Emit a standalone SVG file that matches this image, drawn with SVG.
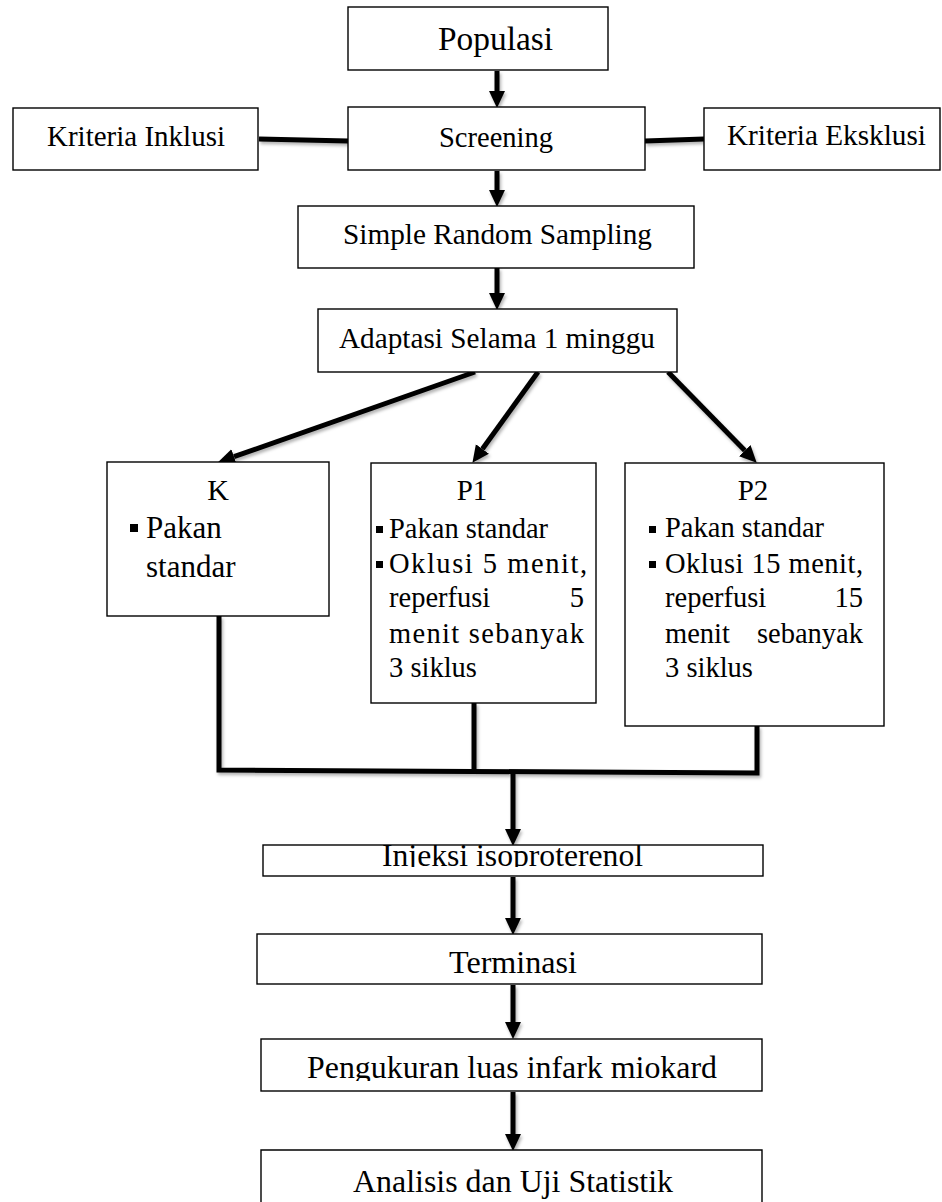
<svg xmlns="http://www.w3.org/2000/svg" width="942" height="1202" viewBox="0 0 942 1202">
<style>
.box{fill:#fff;stroke:#000;stroke-width:1.4}
.t{font-family:"Liberation Serif","Times New Roman",serif;fill:#000}
.c{stroke:#000;stroke-width:5;fill:none}
.b{fill:#000}
</style>
<defs>
<marker id="ah" markerUnits="userSpaceOnUse" markerWidth="17" markerHeight="17" refX="0" refY="8" orient="auto" viewBox="0 0 17 16">
<path d="M0,0 L17,8 L0,16 z" fill="#000"/>
</marker>
<filter id="sh" x="-20%" y="-20%" width="140%" height="140%">
<feDropShadow dx="1.5" dy="2.5" stdDeviation="1.8" flood-color="#000" flood-opacity="0.3"/>
</filter>
<clipPath id="clipInj"><rect x="263" y="845" width="500" height="22"/></clipPath>
<clipPath id="clipPeng"><rect x="261" y="1039" width="501" height="42"/></clipPath>
</defs>
<rect width="942" height="1202" fill="#fff"/>

<g id="connectors" filter="url(#sh)">
<line class="c" x1="497" y1="71" x2="497" y2="91" marker-end="url(#ah)"/>
<line class="c" x1="259" y1="139" x2="348" y2="141"/>
<line class="c" x1="645" y1="141" x2="704" y2="139"/>
<line class="c" x1="497" y1="171" x2="497" y2="190" marker-end="url(#ah)"/>
<line class="c" x1="497" y1="268" x2="497" y2="293" marker-end="url(#ah)"/>
<line class="c" x1="475" y1="372" x2="234" y2="456.7" marker-end="url(#ah)"/>
<line class="c" x1="538" y1="372" x2="482.4" y2="449" marker-end="url(#ah)"/>
<line class="c" x1="668" y1="372" x2="744.8" y2="450.6" marker-end="url(#ah)"/>
<polyline class="c" points="219,616 219,770 757,773 757,726"/>
<line class="c" x1="474" y1="703" x2="474" y2="771"/>
<line class="c" x1="513" y1="772" x2="513" y2="829" marker-end="url(#ah)"/>
<line class="c" x1="513" y1="877" x2="513" y2="918" marker-end="url(#ah)"/>
<line class="c" x1="513" y1="985" x2="513" y2="1022" marker-end="url(#ah)"/>
<line class="c" x1="513" y1="1092" x2="513" y2="1134" marker-end="url(#ah)"/>
</g>

<g id="populasi">
<rect class="box" x="348" y="7" width="260" height="63"/>
<text class="t" x="438" y="50" font-size="33" textLength="115" lengthAdjust="spacingAndGlyphs">Populasi</text>
</g>
<g id="kriteria-inklusi">
<rect class="box" x="13" y="108" width="245" height="62"/>
<text class="t" x="47" y="146" font-size="29" textLength="178" lengthAdjust="spacingAndGlyphs">Kriteria Inklusi</text>
</g>
<g id="screening">
<rect class="box" x="348" y="107" width="297" height="63"/>
<text class="t" x="439" y="147" font-size="29" textLength="114" lengthAdjust="spacingAndGlyphs">Screening</text>
</g>
<g id="kriteria-eksklusi">
<rect class="box" x="704" y="108" width="236" height="62"/>
<text class="t" x="727" y="145" font-size="29" textLength="199" lengthAdjust="spacingAndGlyphs">Kriteria Eksklusi</text>
</g>
<g id="simple-random-sampling">
<rect class="box" x="298" y="206" width="396" height="62"/>
<text class="t" x="343" y="244" font-size="30" textLength="309" lengthAdjust="spacingAndGlyphs">Simple Random Sampling</text>
</g>
<g id="adaptasi">
<rect class="box" x="318" y="309" width="359" height="63"/>
<text class="t" x="339" y="348" font-size="30" textLength="316" lengthAdjust="spacingAndGlyphs">Adaptasi Selama 1 minggu</text>
</g>

<g id="k">
<rect class="box" x="107" y="462" width="222" height="154"/>
<text class="t" x="218" y="500" font-size="30" text-anchor="middle">K</text>
<rect class="b" x="130" y="524" width="8" height="8"/>
<text class="t" x="146" y="538" font-size="31">Pakan</text>
<text class="t" x="146" y="577" font-size="31">standar</text>
</g>

<g id="p1">
<rect class="box" x="371" y="463" width="225" height="240"/>
<text class="t" x="472" y="500" font-size="29" text-anchor="middle">P1</text>
<rect class="b" x="376" y="526" width="7" height="7"/>
<text class="t" x="389" y="538" font-size="28.5">Pakan standar</text>
<rect class="b" x="376" y="561" width="7" height="7"/>
<text class="t" x="389" y="573" font-size="28.5" textLength="198" lengthAdjust="spacing">Oklusi 5 menit,</text>
<text class="t" x="389" y="607" font-size="28.5">reperfusi</text>
<text class="t" x="584" y="607" font-size="28.5" text-anchor="end">5</text>
<text class="t" x="389" y="643" font-size="28.5" textLength="195" lengthAdjust="spacing">menit sebanyak</text>
<text class="t" x="389" y="677" font-size="28.5">3 siklus</text>
</g>

<g id="p2">
<rect class="box" x="625" y="463" width="259" height="263"/>
<text class="t" x="753" y="500" font-size="29" text-anchor="middle">P2</text>
<rect class="b" x="649" y="526" width="7" height="7"/>
<text class="t" x="665" y="537" font-size="28.5">Pakan standar</text>
<rect class="b" x="649" y="561" width="7" height="7"/>
<text class="t" x="665" y="573" font-size="28.5" textLength="198" lengthAdjust="spacing">Oklusi 15 menit,</text>
<text class="t" x="665" y="607" font-size="28.5">reperfusi</text>
<text class="t" x="863" y="607" font-size="28.5" text-anchor="end">15</text>
<text class="t" x="665" y="643" font-size="28.5">menit</text>
<text class="t" x="863" y="643" font-size="28.5" text-anchor="end">sebanyak</text>
<text class="t" x="665" y="677" font-size="28.5">3 siklus</text>
</g>

<g id="injeksi">
<rect class="box" x="263" y="845" width="500" height="31"/>
<text class="t" x="382" y="866" font-size="32" textLength="261" lengthAdjust="spacingAndGlyphs" clip-path="url(#clipInj)">Injeksi isoproterenol</text>
</g>
<g id="terminasi">
<rect class="box" x="257" y="934" width="505" height="50"/>
<text class="t" x="449" y="973" font-size="32" textLength="128" lengthAdjust="spacingAndGlyphs">Terminasi</text>
</g>
<g id="pengukuran">
<rect class="box" x="261" y="1039" width="501" height="52"/>
<text class="t" x="307" y="1078" font-size="32" textLength="410" lengthAdjust="spacingAndGlyphs" clip-path="url(#clipPeng)">Pengukuran luas infark miokard</text>
</g>
<g id="analisis">
<path class="box" d="M261,1203 L261,1150 L762,1150 L762,1203"/>
<text class="t" x="353" y="1192" font-size="32" textLength="320" lengthAdjust="spacingAndGlyphs">Analisis dan Uji Statistik</text>
</g>
</svg>
